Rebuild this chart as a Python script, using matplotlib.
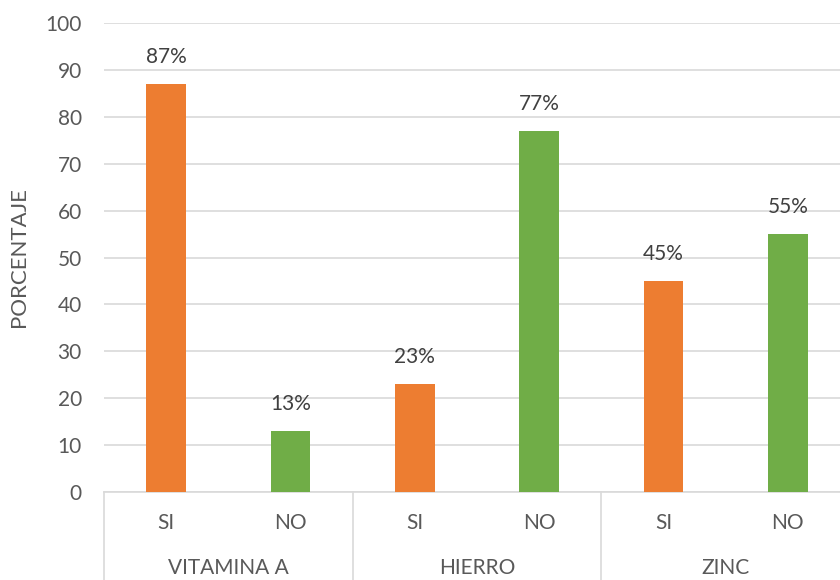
import matplotlib
matplotlib.use("Agg")
import matplotlib.pyplot as plt
import matplotlib.transforms as mtransforms

groups = ["VITAMINA A", "HIERRO", "ZINC"]
answers = ["SI", "NO"]
values = [87, 13, 23, 77, 45, 55]
labels = ["87%", "13%", "23%", "77%", "45%", "55%"]
colors = {"SI": "#ED7D31", "NO": "#70AD47"}
y_ticks = [0, 10, 20, 30, 40, 50, 60, 70, 80, 90, 100]

plt.rcParams['font.family'] = ['Lato', 'DejaVu Sans']
txt = "#595959"
grid = "#D9D9D9"

fig = plt.figure(figsize=(8.4, 5.8), dpi=100)
ax = fig.add_axes([104/840, 1-492/580, 746/840, 469/580])

n = len(values)
xs = list(range(n))
cats = [answers[i % 2] for i in range(n)]
bar_colors = [colors[c] for c in cats]
ax.bar(xs, values, width=0.32, color=bar_colors, zorder=3)
for x, v, l in zip(xs, values, labels):
    ax.annotate(l, (x, v), xytext=(0, 12), textcoords="offset points",
                ha="center", va="bottom", fontsize=15, color="#404040")

ax.set_xlim(-0.5, n-0.5)
ax.set_ylim(0, 100)
ax.set_yticks(y_ticks)
ax.yaxis.grid(True, color=grid, linewidth=1.2, zorder=0)
ax.set_axisbelow(True)
for s in ["top", "right", "left"]:
    ax.spines[s].set_visible(False)
ax.spines["bottom"].set_color(grid)
ax.spines["bottom"].set_linewidth(1.2)
ax.tick_params(axis="y", length=0, pad=16, labelsize=15, labelcolor=txt)
ax.set_xticks(xs)
ax.set_xticklabels(cats)
ax.tick_params(axis="x", length=0, pad=15, labelsize=15, labelcolor=txt)

trans = mtransforms.blended_transform_factory(ax.transData, ax.transAxes)
for gi, g in enumerate(groups):
    ax.text(gi*2 + 0.5, -0.162, g, transform=trans, ha="center", va="center",
            fontsize=15, color=txt)
for b in range(len(groups)+1):
    ax.plot([b*2 - 0.5, b*2 - 0.5], [0, -0.25], transform=trans, color=grid,
            linewidth=1.2, clip_on=False)

ax.set_ylabel("PORCENTAJE", fontsize=16, color=txt)
ax.yaxis.set_label_coords(-75/746, 0.5)

fig.savefig("out.png", dpi=100)
